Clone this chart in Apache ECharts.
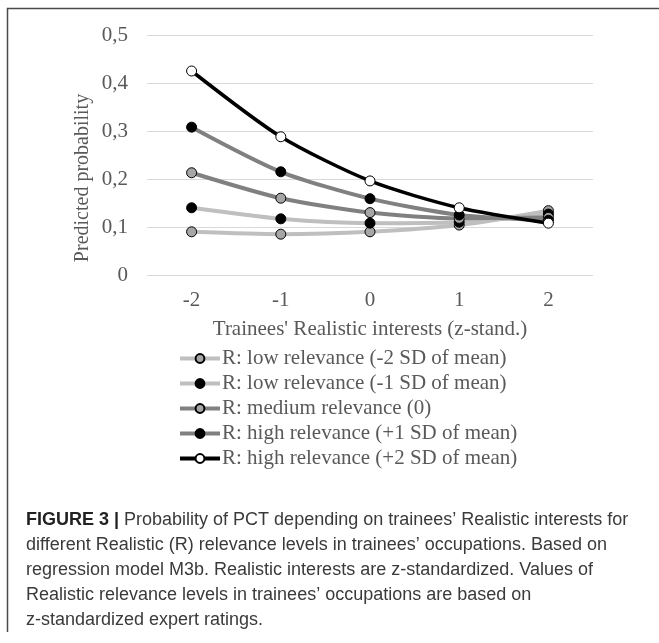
<!DOCTYPE html>
<html>
<head>
<meta charset="utf-8">
<script src="https://cdn.jsdelivr.net/npm/echarts@6/dist/echarts.min.js"></script>
<style>
html,body{margin:0;padding:0;background:#fff;}
#c{width:659px;height:643px;}
</style>
</head>
<body>
<div id="c"></div>
<script>
var categories = ['-2', '-1', '0', '1', '2'];
var seriesNames = [
  'R: low relevance (-2 SD of mean)',
  'R: low relevance (-1 SD of mean)',
  'R: medium relevance (0)',
  'R: high relevance (+1 SD of mean)',
  'R: high relevance (+2 SD of mean)'
];
var lowMinus2 = [0.090, 0.085, 0.090, 0.104, 0.134];
var lowMinus1 = [0.140, 0.117, 0.108, 0.110, 0.127];
var medium0 = [0.213, 0.160, 0.130, 0.118, 0.120];
var highPlus1 = [0.308, 0.215, 0.159, 0.125, 0.114];
var highPlus2 = [0.425, 0.288, 0.196, 0.140, 0.108];
var yTicks = [0, 0.1, 0.2, 0.3, 0.4, 0.5];

var lineColors = ['#bfbfbf', '#bfbfbf', '#808080', '#808080', '#000000'];
var markerFills = ['#a6a6a6', '#000000', '#a6a6a6', '#000000', '#ffffff'];
var allData = [lowMinus2, lowMinus1, medium0, highPlus1, highPlus2];

var serif = '"Liberation Serif", "DejaVu Serif", serif';
var sans = '"Liberation Sans", Arial, sans-serif';
var textGray = '#595959';

var series = allData.map(function (d, i) {
  return {
    name: seriesNames[i],
    type: 'line',
    data: d,
    smooth: 0.25,
    symbol: 'circle',
    symbolSize: 10,
    lineStyle: { color: lineColors[i], width: i === 4 ? 3.5 : 4 },
    itemStyle: { color: markerFills[i], borderColor: '#000', borderWidth: 1 },
    z: 2 + i
  };
});

var chart = echarts.init(document.getElementById('c'), null, { renderer: 'canvas' });
chart.setOption({
  animation: false,
  backgroundColor: '#fff',
  grid: { left: 147, right: 66, top: 35, bottom: 368, containLabel: false },
  xAxis: {
    type: 'category',
    data: categories,
    boundaryGap: true,
    axisLine: { show: false },
    axisTick: { show: false },
    axisLabel: { color: textGray, fontFamily: serif, fontSize: 21, margin: 15 },
    name: "Trainees' Realistic interests (z-stand.)",
    nameLocation: 'middle',
    nameGap: 44,
    nameTextStyle: { color: textGray, fontFamily: serif, fontSize: 21 }
  },
  yAxis: {
    type: 'value',
    min: 0,
    max: 0.5,
    interval: 0.1,
    axisLine: { show: false },
    axisTick: { show: false },
    splitLine: { lineStyle: { color: '#d9d9d9', width: 1 } },
    axisLabel: {
      color: textGray, fontFamily: serif, fontSize: 21, margin: 19,
      formatter: function (v) {
        var t = yTicks.reduce(function (a, b) { return Math.abs(b - v) < Math.abs(a - v) ? b : a; });
        return t === 0 ? '0' : String(t).replace('.', ',');
      }
    }
  },
  legend: {
    orient: 'vertical',
    left: 178,
    top: 348,
    padding: 0,
    itemWidth: 40,
    itemHeight: 11,
    itemGap: 4,
    data: seriesNames,
    lineStyle: { width: 4 },
    textStyle: { color: textGray, fontFamily: serif, fontSize: 21, lineHeight: 21, padding: [0, 0, 0, -3] }
  },
  graphic: [
    {
      type: 'text',
      x: 82.5, y: 178,
      rotation: Math.PI / 2,
      style: {
        text: 'Predicted probability',
        fill: textGray,
        font: '20px ' + serif,
        align: 'center',
        verticalAlign: 'middle'
      }
    },
    {
      type: 'polyline',
      shape: { points: [[7.5, 632], [7.5, 8.5], [659, 8.5]] },
      style: { stroke: '#4a4a4a', lineWidth: 1.5, fill: null }
    },
    {
      type: 'text',
      x: 26, y: 507.5,
      style: {
        text: '{b|FIGURE 3 |} Probability of PCT depending on trainees\u2019 Realistic interests for\ndifferent Realistic (R) relevance levels in trainees\u2019 occupations. Based on\nregression model M3b. Realistic interests are z-standardized. Values of\nRealistic relevance levels in trainees\u2019 occupations are based on\nz-standardized expert ratings.',
        fill: '#3a3a3a',
        fontFamily: sans,
        fontSize: 18,
        lineHeight: 25,
        verticalAlign: 'top',
        rich: {
          b: { fontWeight: 'bold', fill: '#222222', fontFamily: sans, fontSize: 18, lineHeight: 25 }
        }
      }
    }
  ],
  series: series
});
</script>
</body>
</html>
